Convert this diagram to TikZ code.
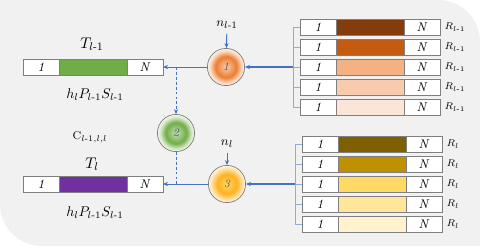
\documentclass[tikz,border=0pt]{standalone}
\usepackage{amsmath}
\usetikzlibrary{arrows.meta,positioning}
\definecolor{bgc}{HTML}{F1F1F1}
\definecolor{link}{HTML}{4472C4}
\definecolor{brk}{HTML}{8FAADC}
\definecolor{edge}{HTML}{7F7F7F}
\definecolor{numc}{HTML}{44546A}
\definecolor{o1}{HTML}{843C0C}
\definecolor{o2}{HTML}{C55A11}
\definecolor{o3}{HTML}{F4B183}
\definecolor{o4}{HTML}{F8CBAD}
\definecolor{o5}{HTML}{FBE5D6}
\definecolor{y1}{HTML}{7F6000}
\definecolor{y2}{HTML}{BF9000}
\definecolor{y3}{HTML}{FFD966}
\definecolor{y4}{HTML}{FFE699}
\definecolor{y5}{HTML}{FFF2CC}
\definecolor{grn}{HTML}{70AD47}
\definecolor{pur}{HTML}{7030A0}
\definecolor{ctrO}{HTML}{F8CBAD}
\definecolor{ringO}{HTML}{ED7D31}
\definecolor{fadeO}{HTML}{F9D5BC}
\definecolor{ctrG}{HTML}{C5E0B4}
\definecolor{ringG}{HTML}{70AD47}
\definecolor{fadeG}{HTML}{D5E8C8}
\definecolor{ctrY}{HTML}{FFD966}
\definecolor{ringY}{HTML}{FFB020}
\definecolor{fadeY}{HTML}{FFE2A8}
\pgfdeclareradialshading{shO}{\pgfpointorigin}{color(0bp)=(ctrO); color(14bp)=(ringO); color(21bp)=(fadeO); color(27bp)=(white); color(50bp)=(white)}
\pgfdeclareradialshading{shG}{\pgfpointorigin}{color(0bp)=(ctrG); color(14bp)=(ringG); color(21bp)=(fadeG); color(27bp)=(white); color(50bp)=(white)}
\pgfdeclareradialshading{shY}{\pgfpointorigin}{color(0bp)=(ctrY); color(13bp)=(ringY); color(21bp)=(fadeY); color(27bp)=(white); color(50bp)=(white)}
\newcommand\seqrow[3]{%
\node[cell,anchor=west] (#1-l) at #2 {\textit{1}};
\node[midcell,fill=#3,right=0pt of #1-l] (#1-m) {};
\node[cell,right=0pt of #1-m] (#1-r) {\textit{N}};}

\begin{document}
\begin{tikzpicture}[x=0.025cm,y=-0.025cm,>={Stealth[length=3.5pt,width=3pt]},
cell/.style={draw=edge,line width=0.5pt,fill=white,minimum width=0.9cm,minimum height=0.4cm,inner sep=0pt,outer sep=0pt,font=\fontsize{9}{10}\selectfont},
midcell/.style={cell,minimum width=1.7cm},
opnode/.style={circle,draw=edge,line width=0.5pt,minimum size=0.93cm,inner sep=0pt,shade,font=\fontsize{8}{9}\selectfont\itshape,text=numc},
lab/.style={font=\fontsize{11}{13}\selectfont},
sublab/.style={font=\fontsize{10}{12}\selectfont},
rlab/.style={font=\fontsize{7.5}{9}\selectfont,inner sep=1pt},
arr/.style={->,draw=link,line width=0.7pt},
bline/.style={draw=brk,line width=0.6pt},
dline/.style={draw=link,line width=0.6pt,dash pattern=on 2pt off 1.5pt}]
\useasboundingbox (0,0) rectangle (480,246);
\fill[white] (0,0) rectangle (480,246);
\fill[bgc,rounded corners=1.05cm] (0,0) rectangle (480,246);
\fill[bgc] (0,0) rectangle (100,100);
\fill[bgc] (380,146) rectangle (480,246);

\seqrow{bp}{(23,67)}{grn}
\seqrow{bc}{(23,184)}{pur}
\node[lab] (tp) at (92,44) {$T_{l\text{-}1}$};
\node[sublab] (hp) at (95,95) {$h_lP_{l\text{-}1}S_{l\text{-}1}$};
\node[lab] (tc) at (92,164) {$T_l$};
\node[sublab] (hc) at (95,213) {$h_lP_{l\text{-}1}S_{l\text{-}1}$};
\node[font=\fontsize{8}{10}\selectfont] (cc) at (90,137) {$\mathrm{C}_{l\text{-}1,l,l}$};

\node[opnode,shading=shO] (c1) at (226,67) {1};
\node[opnode,shading=shG] (c2) at (176,133) {2};
\node[opnode,shading=shY] (c3) at (227,184) {3};
\node[font=\fontsize{9.5}{11}\selectfont] (n1) at (227,25) {$n_{l\text{-}1}$};
\node[font=\fontsize{9.5}{11}\selectfont] (n3) at (227,144) {$n_l$};

\foreach \c [count=\i] in {o1,o2,o3,o4,o5} {
\seqrow{t\i}{(300,7+20*\i)}{\c}
\node[rlab,right=2pt of t\i-r] (t\i-t) {$R_{l\text{-}1}$};}
\foreach \c [count=\i] in {y1,y2,y3,y4,y5} {
\seqrow{u\i}{(302,124+20*\i)}{\c}
\node[rlab,right=2pt of u\i-r] (u\i-t) {$R_l$};}

\coordinate (tj) at ([xshift=-0.175cm]t3-l.west);
\coordinate (uj) at ([xshift=-0.175cm]u3-l.west);
\foreach \i in {1,...,5} {\draw[bline] (t\i-l.west) -- (tj |- t\i-l.west); \draw[bline] (u\i-l.west) -- (uj |- u\i-l.west);}
\draw[bline] (tj |- t1-l.west) -- (tj |- t5-l.west);
\draw[bline] (uj |- u1-l.west) -- (uj |- u5-l.west);
\draw[arr,line width=1pt] (tj) -- (c1);
\draw[arr,line width=1pt] (uj) -- (c3);

\draw[arr] (n1) -- (c1);
\draw[arr] (n3) -- (c3);
\draw[arr] (c1) -- (c1 -| bp-r.east);
\draw[arr] (c3) -- (c3 -| bc-r.east);
\draw[dline,->] (c1 -| c2) -- (c2);
\draw[dline] (c2) -- (c2 |- c3);
\end{tikzpicture}
\end{document}
